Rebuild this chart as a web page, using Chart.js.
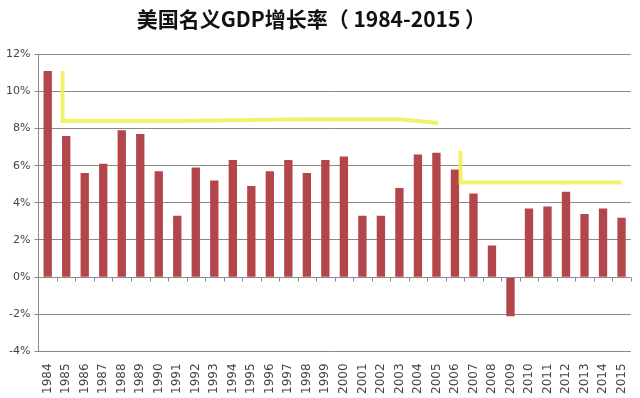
<!DOCTYPE html>
<html>
<head>
<meta charset="utf-8">
<script src="https://cdn.jsdelivr.net/npm/chart.js@4"></script>
<style>
  body { margin: 0; background: #fff; }
  #wrap { width: 640px; height: 398px; }
</style>
</head>
<body>
<div id="wrap"><canvas id="myChart"></canvas></div>
<script>
var years = ["1984", "1985", "1986", "1987", "1988", "1989", "1990", "1991", "1992", "1993",
  "1994", "1995", "1996", "1997", "1998", "1999", "2000", "2001", "2002", "2003", "2004",
  "2005", "2006", "2007", "2008", "2009", "2010", "2011", "2012", "2013", "2014", "2015"];

var growth = [11.1, 7.6, 5.6, 6.1, 7.9, 7.7, 5.7, 3.3, 5.9, 5.2,
  6.3, 4.9, 5.7, 6.3, 5.6, 6.3, 6.5, 3.3, 3.3, 4.8, 6.6,
  6.7, 5.8, 4.5, 1.7, -2.1, 3.7, 3.8, 4.6, 3.4, 3.7, 3.2];

// hand drawn yellow marker lines (x = category index, y = percent)
var markA = [{ x: 0.8, y: 11.1 }, { x: 0.8, y: 8.4 }, { x: 7, y: 8.4 }, { x: 14, y: 8.5 }, { x: 19, y: 8.5 }, { x: 21.1, y: 8.3 }];
var markB = [{ x: 22.3, y: 6.8 }, { x: 22.3, y: 5.1 }, { x: 31, y: 5.1 }];

var tickFont = { family: "'DejaVu Sans', sans-serif", size: 11 };

// small tick marks on the 0% line, like the original axis
var zeroTicks = {
  id: "zeroTicks",
  afterDatasetsDraw: function (chart) {
    var x = chart.scales.x, y = chart.scales.y, ctx = chart.ctx;
    var y0 = Math.round(y.getPixelForValue(0)) + 0.5;
    var step = (x.right - x.left) / years.length;
    ctx.save();
    ctx.strokeStyle = "#8a8a8a";
    ctx.lineWidth = 1;
    ctx.beginPath();
    ctx.moveTo(x.left, y0);
    ctx.lineTo(x.right, y0);
    for (var i = 0; i <= years.length; i++) {
      var px = Math.round(x.left + i * step) + 0.5;
      ctx.moveTo(px, y0);
      ctx.lineTo(px, y0 + 4);
    }
    ctx.stroke();
    ctx.restore();
  }
};

var data = {
  labels: years,
  datasets: [
    {
      type: "line",
      data: markA,
      xAxisID: "x2",
      borderColor: "rgba(240, 240, 80, 0.85)",
      borderWidth: 4,
      pointRadius: 0,
      tension: 0,
      order: 0,
    },
    {
      type: "line",
      data: markB,
      xAxisID: "x2",
      borderColor: "rgba(240, 240, 80, 0.85)",
      borderWidth: 4,
      pointRadius: 0,
      tension: 0,
      order: 0,
    },
    {
      type: "bar",
      data: growth,
      backgroundColor: "#b3464b",
      grouped: false,
      barPercentage: 0.45,
      categoryPercentage: 1,
      order: 1,
    },
  ],
};

var config = {
  type: "bar",
  data: data,
  options: {
    responsive: true,
    maintainAspectRatio: false,
    animation: false,
    layout: { padding: { left: 2, right: 4, top: 4, bottom: 0 } },
    plugins: {
      legend: { display: false },
      tooltip: { enabled: false },
      title: {
        display: true,
        text: "美国名义GDP增长率（ 1984-2015 ）\u3000 ",
        color: "#111",
        font: { family: "'Noto Sans CJK SC', sans-serif", size: 21, weight: "bold" },
        padding: { top: 2, bottom: 23 },
      },
    },
    scales: {
      x: {
        grid: { display: false },
        border: { display: false },
        ticks: {
          color: "#444",
          font: { family: "'DejaVu Sans', sans-serif", size: 12 },
          minRotation: 90,
          maxRotation: 90,
          autoSkip: false,
          padding: 4,
        },
      },
      x2: {
        type: "linear",
        display: false,
        offset: false,
        min: -0.5,
        max: 31.5,
      },
      y: {
        min: -4,
        max: 12,
        ticks: {
          stepSize: 2,
          color: "#444",
          font: tickFont,
          padding: 4,
          callback: function (v) { return v + "%"; },
        },
        grid: { color: "#8a8a8a", tickLength: 4, tickColor: "#8a8a8a" },
        border: { color: "#8a8a8a" },
      },
    },
  },
  plugins: [zeroTicks],
};

var myChart = new Chart(document.getElementById("myChart"), config);
</script>
</body>
</html>
